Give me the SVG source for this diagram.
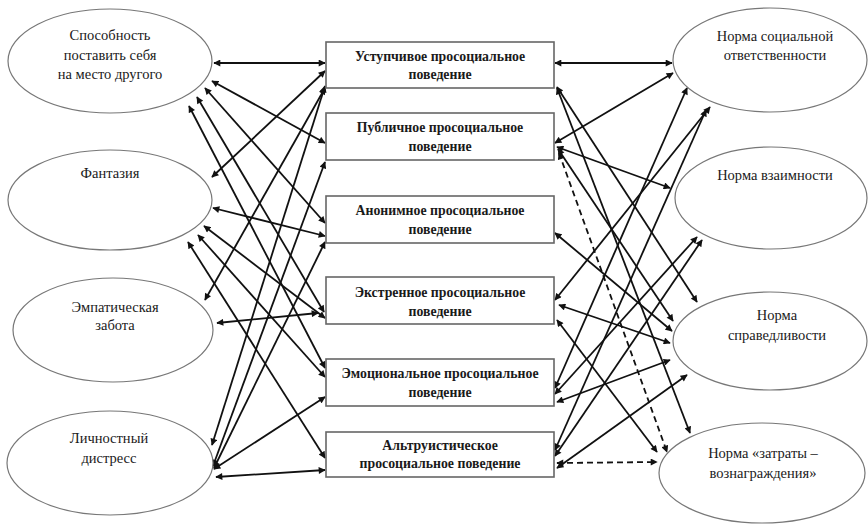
<svg xmlns="http://www.w3.org/2000/svg" width="868" height="530" viewBox="0 0 868 530">
<style>
.el{fill:#fff;stroke:#777;stroke-width:1.2}
.bx{fill:#fff;stroke:#666;stroke-width:1.6}
.t{font-family:'Liberation Serif','Times New Roman',serif;font-size:14.5px;fill:#1a1a1a;text-anchor:middle}
.b{font-family:'Liberation Serif','Times New Roman',serif;font-size:13.8px;font-weight:bold;fill:#1a1a1a;text-anchor:middle}
.c line{stroke:#111;stroke-width:1.8;marker-start:url(#a);marker-end:url(#a)}
.c line.d{stroke-dasharray:6,4}
</style>
<defs>
<marker id="a" viewBox="0 0 10 10" refX="9" refY="5" markerWidth="8" markerHeight="7" orient="auto-start-reverse" markerUnits="userSpaceOnUse"><path d="M0,0 L10,5 L0,10 z" fill="#111"/></marker>
</defs>
<rect width="868" height="530" fill="#fff"/>
<g class="c" id="connectors">
<line x1="214" y1="63" x2="325" y2="63"/>
<line x1="212" y1="81" x2="325" y2="143"/>
<line x1="205" y1="88" x2="325" y2="223"/>
<line x1="197" y1="97" x2="324" y2="312"/>
<line x1="189" y1="106" x2="325" y2="368"/>
<line x1="212" y1="177" x2="325" y2="71"/>
<line x1="213" y1="208" x2="325" y2="236"/>
<line x1="204" y1="226" x2="325" y2="318"/>
<line x1="198" y1="235" x2="325" y2="377"/>
<line x1="188" y1="242" x2="325" y2="458"/>
<line x1="205" y1="300" x2="325" y2="88"/>
<line x1="217" y1="323" x2="318" y2="313"/>
<line x1="212" y1="445" x2="325" y2="86"/>
<line x1="213" y1="466" x2="325" y2="162"/>
<line x1="214" y1="468" x2="325" y2="242"/>
<line x1="214" y1="469" x2="325" y2="397"/>
<line x1="216" y1="477" x2="325" y2="470"/>
<line x1="555" y1="63" x2="672" y2="63"/>
<line x1="555" y1="143" x2="673" y2="73"/>
<line x1="557" y1="87" x2="697" y2="302"/>
<line x1="557" y1="88" x2="690" y2="433"/>
<line x1="557" y1="147" x2="670" y2="188"/>
<line class="d" x1="559" y1="153" x2="667" y2="452"/>
<line x1="558" y1="149" x2="673" y2="321"/>
<line x1="555" y1="233" x2="672" y2="331"/>
<line x1="555" y1="300" x2="710" y2="107"/>
<line x1="559" y1="305" x2="670" y2="343"/>
<line x1="557" y1="320" x2="657" y2="452"/>
<line x1="555" y1="388" x2="687" y2="88"/>
<line x1="555" y1="394" x2="697" y2="237"/>
<line x1="557" y1="402" x2="670" y2="360"/>
<line x1="555" y1="450" x2="706" y2="110"/>
<line x1="555" y1="456" x2="702" y2="240"/>
<line x1="557" y1="468" x2="687" y2="375"/>
<line class="d" x1="557" y1="463" x2="657" y2="462"/>
</g>
<g id="L1"><ellipse class="el" cx="110" cy="61" rx="102" ry="52"/><text class="t" x="110" y="40">Способность</text><text class="t" x="110" y="60">поставить себя</text><text class="t" x="110" y="79">на  место другого</text></g>
<g id="L2"><ellipse class="el" cx="110" cy="200" rx="102" ry="50"/><text class="t" x="110" y="178">Фантазия</text></g>
<g id="L3"><ellipse class="el" cx="113" cy="330" rx="100" ry="52"/><text class="t" x="115" y="312">Эмпатическая</text><text class="t" x="115" y="330">забота</text></g>
<g id="L4"><ellipse class="el" cx="110" cy="463" rx="103" ry="52"/><text class="t" x="109" y="443">Личностный</text><text class="t" x="109" y="463">дистресс</text></g>
<g id="B1"><rect class="bx" x="326" y="42" width="228" height="46"/><text class="b" x="440" y="61">Уступчивое просоциальное</text><text class="b" x="440" y="79">поведение</text></g>
<g id="B2"><rect class="bx" x="326" y="113" width="228" height="47"/><text class="b" x="440" y="132">Публичное просоциальное</text><text class="b" x="440" y="151">поведение</text></g>
<g id="B3"><rect class="bx" x="326" y="196" width="228" height="47"/><text class="b" x="440" y="215">Анонимное просоциальное</text><text class="b" x="440" y="234">поведение</text></g>
<g id="B4"><rect class="bx" x="326" y="277" width="228" height="47"/><text class="b" x="440" y="297">Экстренное просоциальное</text><text class="b" x="440" y="316">поведение</text></g>
<g id="B5"><rect class="bx" x="326" y="359" width="228" height="47"/><text class="b" x="440" y="378">Эмоциональное просоциальное</text><text class="b" x="440" y="397">поведение</text></g>
<g id="B6"><rect class="bx" x="326" y="432" width="228" height="45"/><text class="b" x="440" y="450">Альтруистическое</text><text class="b" x="440" y="468">просоциальное поведение</text></g>
<g id="R1"><ellipse class="el" cx="770" cy="60" rx="97" ry="52"/><text class="t" x="775" y="41">Норма социальной</text><text class="t" x="775" y="60">ответственности</text></g>
<g id="R2"><ellipse class="el" cx="771" cy="198" rx="96" ry="51"/><text class="t" x="775" y="180">Норма взаимности</text></g>
<g id="R3"><ellipse class="el" cx="770" cy="341" rx="97" ry="49"/><text class="t" x="777" y="320">Норма</text><text class="t" x="777" y="340">справедливости</text></g>
<g id="R4"><ellipse class="el" cx="762" cy="473" rx="103" ry="50"/><text class="t" x="763" y="458">Норма «затраты –</text><text class="t" x="763" y="478">вознаграждения»</text></g>
</svg>
